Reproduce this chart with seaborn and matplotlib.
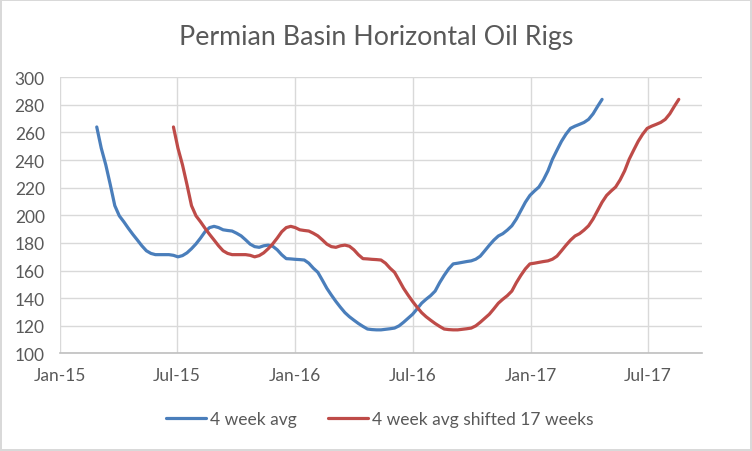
import matplotlib
matplotlib.use("Agg")
import matplotlib.pyplot as plt
import seaborn as sns
import pandas as pd
from matplotlib.lines import Line2D

# weekly 4-week average of Permian horizontal oil rigs
start_date = "2015-02-27"
shift_weeks = 17
avg_values = [
    264, 248.6, 236.6, 222.2, 207, 199.6, 195.3, 190.6, 186.2, 182.1,
    177.9, 174.3, 172.4, 171.5, 171.5, 171.5, 171.5, 171, 169.9, 170.8,
    172.8, 175.8, 179.3, 183.5, 188.1, 191.1, 192, 191.1, 189.5, 189,
    188.6, 187, 185.1, 182.2, 179.1, 177.3, 176.8, 177.9, 178.4, 177.6,
    175, 171.4, 168.6, 168.4, 168.1, 167.9, 167.6, 165.3, 161.7, 158.7,
    153, 147.1, 142.2, 137.6, 133.4, 129.5, 126.5, 124, 121.6, 119.5,
    117.6, 117.2, 117, 117, 117.4, 117.8, 118.3, 119.9, 122.5, 125.4,
    128.3, 132.2, 136.3, 139.2, 141.8, 145.1, 151.2, 156.5, 161.2, 164.8,
    165.3, 165.9, 166.5, 167, 168.2, 170.4, 174.3, 178.3, 182, 185,
    186.7, 189.3, 192.4, 197.3, 203.4, 209.5, 214.4, 217.6, 220.5, 225.7,
    232.2, 240.6, 247.2, 253.6, 258.8, 263, 264.6, 265.9, 267.3, 269.5,
    273.5, 278.9, 284,
]
series_names = ["4 week avg", "4 week avg shifted 17 weeks"]
series_colors = ["#4A7EBB", "#BE4B48"]
y_ticks = [100, 120, 140, 160, 180, 200, 220, 240, 260, 280, 300]
x_tick_dates = ["2015-01-01", "2015-07-01", "2016-01-01", "2016-07-01", "2017-01-01", "2017-07-01"]
x_tick_labels = ["Jan-15", "Jul-15", "Jan-16", "Jul-16", "Jan-17", "Jul-17"]
title = "Permian Basin Horizontal Oil Rigs"

dates = pd.date_range(start_date, periods=len(avg_values), freq="7D")
df = pd.concat([
    pd.DataFrame({"date": dates, "rigs": avg_values, "series": series_names[0]}),
    pd.DataFrame({"date": dates + pd.Timedelta(weeks=shift_weeks), "rigs": avg_values,
                  "series": series_names[1]}),
])

sns.set_theme(style="white")
plt.rcParams["font.family"] = ["Lato", "DejaVu Sans"]

grey = "#595959"
fig = plt.figure(figsize=(7.52, 4.52), dpi=100, edgecolor="#D9D9D9", linewidth=1.5)
ax = fig.add_axes([0.0798, 0.2161, 0.8537, 0.6107])

sns.lineplot(data=df, x="date", y="rigs", hue="series", palette=series_colors,
             hue_order=series_names, linewidth=2.3, ax=ax, legend=False)

ax.set_xlim(pd.Timestamp("2015-01-01"), pd.Timestamp("2017-09-23"))
ax.set_ylim(100, 300)
ax.set_yticks(y_ticks)
ax.set_xticks(pd.to_datetime(x_tick_dates))
ax.set_xticklabels(x_tick_labels)
ax.grid(True, color="#D9D9D9", linewidth=1)
ax.set_axisbelow(True)
for s in ["top", "right", "left"]:
    ax.spines[s].set_visible(False)
ax.spines["bottom"].set_color("#BFBFBF")
ax.spines["bottom"].set_linewidth(1.2)
ax.tick_params(axis="both", length=0, labelsize=12.5, labelcolor=grey)
ax.tick_params(axis="y", pad=11)
ax.tick_params(axis="x", pad=10)
ax.set_xlabel("")
ax.set_ylabel("")

fig.text(0.5, 1 - 38 / 452, title, ha="center", va="center", fontsize=19.3, color=grey)

handles = [Line2D([], [], color=c, linewidth=2.3) for c in series_colors]
fig.legend(handles, series_names, loc="center", bbox_to_anchor=(0.505, 1 - 420 / 452),
           ncol=2, frameon=False, fontsize=12.5, labelcolor=grey, handlelength=2.3,
           handletextpad=0.25, columnspacing=1.8)

fig.savefig("out.png", dpi=100, edgecolor=fig.get_edgecolor(), facecolor="white")
